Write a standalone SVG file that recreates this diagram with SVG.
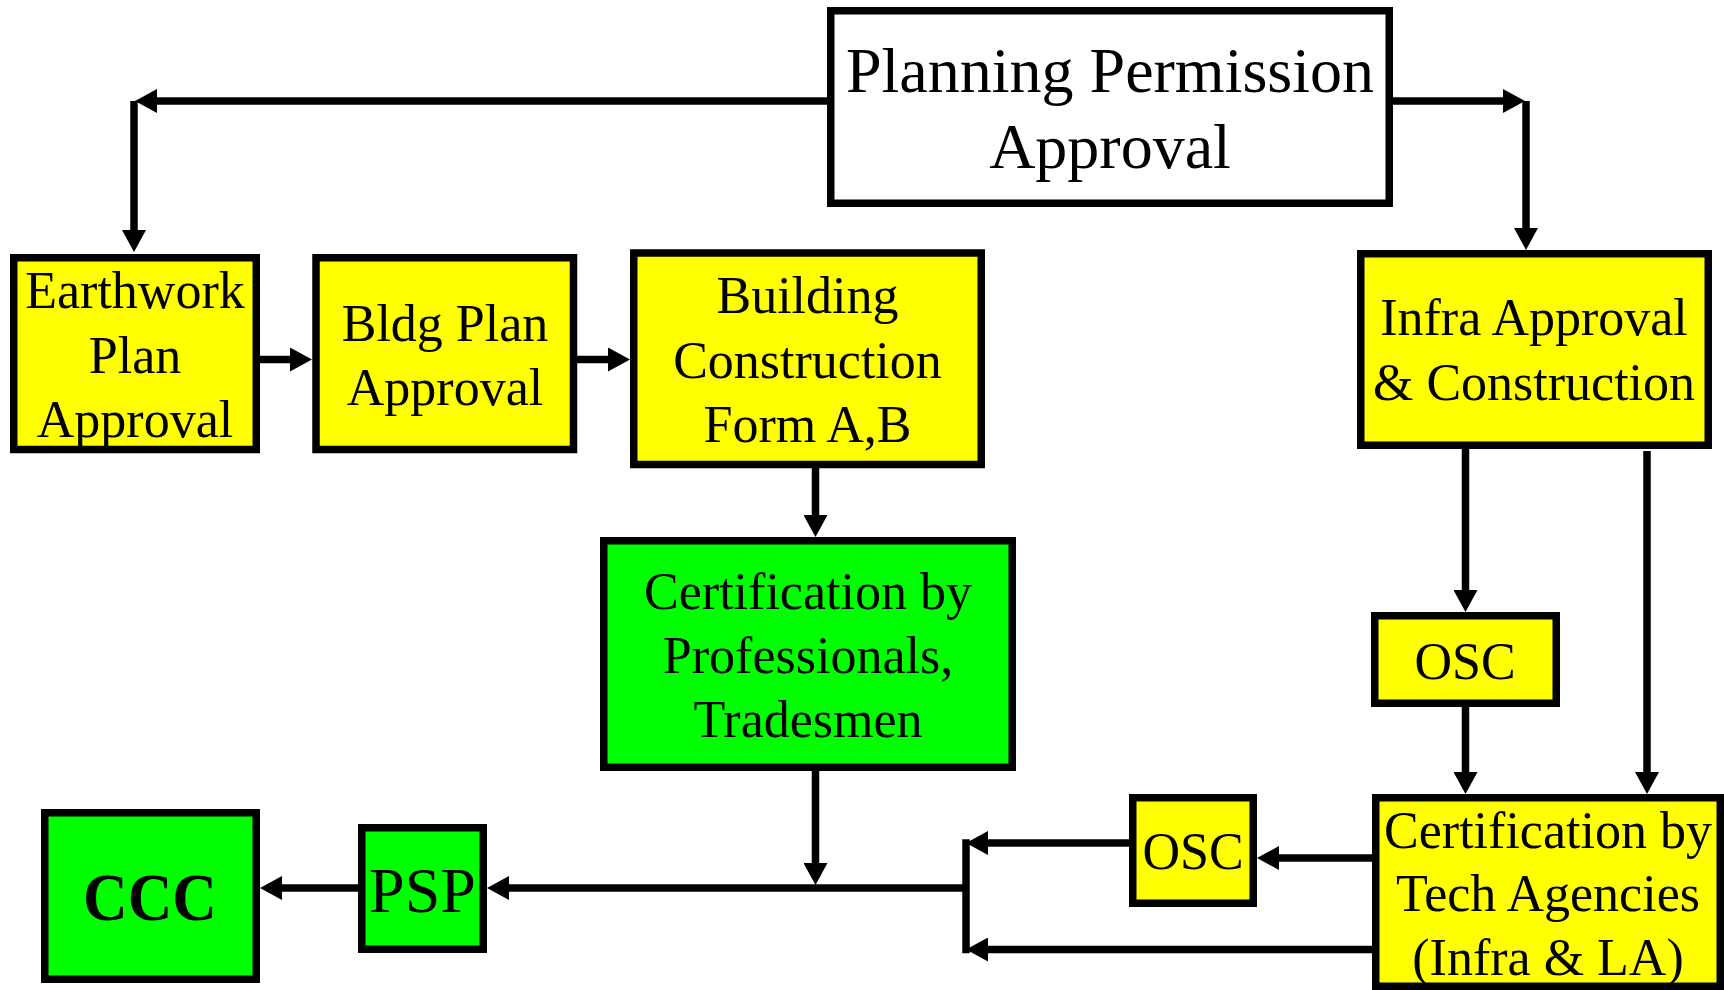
<svg xmlns="http://www.w3.org/2000/svg" width="1724" height="990" viewBox="0 0 1724 990">
<style>
.box{stroke:#000;stroke-width:7.5}
.y{fill:#ffff00}
.g{fill:#00ff00}
.w{fill:#fff}
text{font-family:"Liberation Serif","Times New Roman",serif;fill:#000;text-anchor:middle}
.t52{font-size:52px}
.t64{font-size:64px}
.ccc{font-size:68px;font-weight:bold}
.c{fill:none;stroke:#000;stroke-width:7.5}
</style>
<defs>
<marker id="ah" markerUnits="userSpaceOnUse" markerWidth="22" markerHeight="24" refX="1" refY="12" orient="auto">
<path d="M0,0 L22,12 L0,24 z" fill="#000"/>
</marker>
</defs>
<rect width="1724" height="990" fill="#fff"/>
<g id="connectors">
<path class="c" d="M827,101 H156" marker-end="url(#ah)"/>
<path class="c" d="M134,101 V231" marker-end="url(#ah)"/>
<path class="c" d="M1393,101 H1504" marker-end="url(#ah)"/>
<path class="c" d="M1526,101 V229" marker-end="url(#ah)"/>
<path class="c" d="M260,359.5 H291" marker-end="url(#ah)"/>
<path class="c" d="M577,359.5 H609" marker-end="url(#ah)"/>
<path class="c" d="M815.5,468 V516" marker-end="url(#ah)"/>
<path class="c" d="M815.5,771 V864" marker-end="url(#ah)"/>
<path class="c" d="M966,888 H508" marker-end="url(#ah)"/>
<path class="c" d="M358,888 H281" marker-end="url(#ah)"/>
<path class="c" d="M1465.5,434 V591" marker-end="url(#ah)"/>
<path class="c" d="M1465.5,692 V773" marker-end="url(#ah)"/>
<path class="c" d="M1647,451 V773" marker-end="url(#ah)"/>
<path class="c" d="M1372,858 H1278" marker-end="url(#ah)"/>
<path class="c" d="M1129,843 H987" marker-end="url(#ah)"/>
<path class="c" d="M1372,949.5 H987" marker-end="url(#ah)"/>
<path class="c" d="M966,843 V949.5" stroke-linecap="square"/>
</g>
<g id="planning">
<rect class="box w" x="830.75" y="10.75" width="558.5" height="192.5"/>
<text class="t64" x="1110" y="92">Planning Permission</text>
<text class="t64" x="1110" y="168">Approval</text>
</g>
<g id="earthwork">
<rect class="box y" x="13.75" y="257.75" width="242.5" height="191.75"/>
<text class="t52" x="135" y="308">Earthwork</text>
<text class="t52" x="135" y="373">Plan</text>
<text class="t52" x="135" y="437">Approval</text>
</g>
<g id="bldgplan">
<rect class="box y" x="316" y="257.75" width="257.5" height="191.75"/>
<text class="t52" x="445" y="341">Bldg Plan</text>
<text class="t52" x="445" y="405">Approval</text>
</g>
<g id="building">
<rect class="box y" x="633.75" y="253" width="347.5" height="211.5"/>
<text class="t52" x="807.5" y="313">Building</text>
<text class="t52" x="807.5" y="378">Construction</text>
<text class="t52" x="807.5" y="442">Form A,B</text>
</g>
<g id="infra">
<rect class="box y" x="1360.75" y="253.75" width="347.5" height="191.5"/>
<text class="t52" x="1534" y="335">Infra Approval</text>
<text class="t52" x="1534" y="400">&amp; Construction</text>
</g>
<g id="certprof">
<rect class="box g" x="603.75" y="540.75" width="408.5" height="226.5"/>
<text class="t52" x="808" y="609">Certification by</text>
<text class="t52" x="808" y="673">Professionals,</text>
<text class="t52" x="808" y="737">Tradesmen</text>
</g>
<g id="osc1">
<rect class="box y" x="1374.75" y="615.75" width="181.5" height="87.5"/>
<text class="t52" x="1465" y="679">OSC</text>
</g>
<g id="certtech">
<rect class="box y" x="1375.75" y="797.75" width="344.5" height="188.5"/>
<text class="t52" x="1548" y="848">Certification by</text>
<text class="t52" x="1548" y="911">Tech Agencies</text>
<text class="t52" x="1548" y="975">(Infra &amp; LA)</text>
</g>
<g id="osc2">
<rect class="box y" x="1132.75" y="797.75" width="120.5" height="105.5"/>
<text class="t52" x="1193" y="869">OSC</text>
</g>
<g id="psp">
<rect class="box g" x="361.75" y="827.75" width="121.5" height="121.5"/>
<text class="t64" x="422.5" y="912">PSP</text>
</g>
<g id="ccc">
<rect class="box g" x="44.75" y="812.75" width="211.5" height="166.5"/>
<text class="ccc" x="150" y="920" textLength="134" lengthAdjust="spacingAndGlyphs">CCC</text>
</g>
</svg>
